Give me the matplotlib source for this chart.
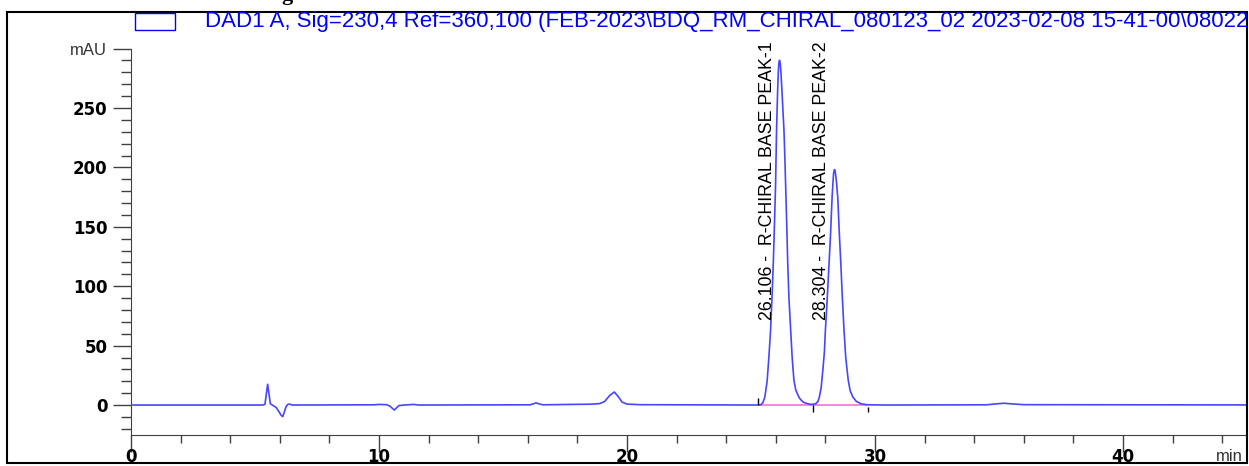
import matplotlib
matplotlib.use('Agg')
import matplotlib.pyplot as plt
from matplotlib.patches import Rectangle
from matplotlib.ticker import MultipleLocator, FixedLocator

# chromatogram trace (time in min, signal in mAU)
time_min = [0.0, 5.30, 5.40, 5.45, 5.51, 5.56, 5.62, 5.70, 5.85, 5.98, 6.05, 6.12, 6.18, 6.25, 6.32, 6.40, 6.50,
            9.80, 10.00, 10.30, 10.45, 10.55, 10.62, 10.70, 10.80, 11.00, 11.40, 11.60,
            16.10, 16.25, 16.33, 16.45, 16.60,
            18.50, 18.90, 19.10, 19.30, 19.49, 19.65, 19.80, 20.00, 20.50,
            25.30, 25.40, 25.48, 25.56, 25.65, 25.72, 25.79, 25.85, 25.90, 25.95, 25.99, 26.03, 26.07, 26.10,
            26.12, 26.14, 26.16, 26.18, 26.21, 26.25, 26.29, 26.33, 26.37, 26.41, 26.45, 26.48, 26.53, 26.60,
            26.66, 26.73, 26.80, 26.88, 26.95, 27.05, 27.15, 27.30, 27.45,
            27.60, 27.70, 27.76, 27.83, 27.90, 27.96, 28.00, 28.08, 28.15, 28.21, 28.27, 28.31, 28.33, 28.36,
            28.38, 28.40, 28.45, 28.50, 28.56, 28.62, 28.68, 28.75, 28.82, 28.92, 29.00, 29.10, 29.25, 29.45,
            29.70, 30.50, 34.50, 34.90, 35.20, 35.50, 36.00, 45.00]
signal_mau = [0.0, 0.0, 0.5, 8.0, 17.5, 10.0, 1.0, 0.0, -2.0, -6.0, -8.5, -9.8, -6.0, -1.5, 0.5, 0.8, 0.0,
              0.2, 0.5, 0.3, -1.0, -3.0, -4.2, -2.5, -0.5, 0.0, 0.5, 0.0,
              0.2, 1.2, 1.8, 1.0, 0.2,
              0.7, 1.2, 3.0, 8.0, 11.0, 7.0, 2.5, 0.8, 0.3,
              0.0, 0.3, 2.0, 7.0, 20.0, 40.0, 63.0, 92.0, 120.0, 155.0, 185.0, 231.0, 262.0, 280.0,
              287.0, 290.0, 290.0, 287.0, 279.0, 264.0, 247.0, 231.0, 205.0, 175.0, 145.0, 120.0, 90.0, 63.0,
              40.0, 21.0, 13.0, 9.0, 6.0, 3.5, 2.0, 1.0, 0.5,
              1.0, 3.0, 7.0, 15.0, 30.0, 45.0, 63.0, 92.0, 120.0, 145.0, 175.0, 189.0, 195.0, 198.0,
              198.0, 196.0, 187.0, 174.0, 145.0, 120.0, 92.0, 63.0, 40.0, 21.0, 12.0, 7.0, 3.0, 1.0,
              0.2, 0.0, 0.2, 1.0, 1.5, 1.0, 0.3, 0.1]

# integration baseline and its start/end marks
base_t = [25.35, 29.65]
base_v = [0.0, 0.0]
mark_t = [25.30, 27.48, 29.70]
mark_lo = [0.0, -6.0, -6.0]
mark_hi = [6.0, 0.0, -1.5]

peak_labels = ['26.106 -  R-CHIRAL BASE PEAK-1', '28.304 -  R-CHIRAL BASE PEAK-2']
label_t = [25.65, 27.83]
label_v = [71.5, 71.5]

y_ticks = [0, 50, 100, 150, 200, 250, 300]
y_ticklabels = ['0', '50', '100', '150', '200', '250', 'mAU']
x_ticks = [0, 10, 20, 30, 40]

title = 'DAD1 A, Sig=230,4 Ref=360,100 (FEB-2023\\BDQ_RM_CHIRAL_080123_02 2023-02-08 15-41-00\\08022'

W, H = 1249, 466
fig = plt.figure(figsize=(W / 100, H / 100), dpi=100)
plt.rcParams['font.family'] = ['Liberation Sans', 'DejaVu Sans']

ax = fig.add_axes([131 / W, (H - 434.5) / H, (1247 - 131) / W, (434.5 - 12) / H])
ax.set_xlim(0, 45.0)
ax.set_ylim(-24.8, 330.8)

ax.plot(time_min, signal_mau, color='#4646ff', lw=1.2, zorder=3)
ax.plot(base_t, base_v, color='#ff70d8', lw=1.2, zorder=2)
ax.vlines(mark_t, mark_lo, mark_hi, color='black', lw=1.0, zorder=4)

for t, v, s in zip(label_t, label_v, peak_labels):
    ax.text(t, v, s, rotation=90, ha='center', va='bottom', fontsize=12.8, color='black')

for side in ['top', 'right']:
    ax.spines[side].set_visible(False)
axis_col = '#404040'
ax.spines['left'].set_bounds(-24.8, 300)
ax.spines['left'].set_color(axis_col)
ax.spines['bottom'].set_color(axis_col)

ax.xaxis.set_major_locator(FixedLocator(x_ticks))
ax.xaxis.set_minor_locator(MultipleLocator(2))
ax.set_xticklabels([str(v) for v in x_ticks], fontsize=12, fontweight='bold', family='DejaVu Sans')
ax.tick_params(axis='x', which='major', length=12, width=1, color=axis_col, pad=-2)
ax.tick_params(axis='x', which='minor', length=6, width=1, color=axis_col)

ax.yaxis.set_major_locator(FixedLocator(y_ticks))
ax.yaxis.set_minor_locator(FixedLocator([v for v in range(-20, 300, 10) if v % 50 != 0]))
ax.set_yticklabels(y_ticklabels, fontsize=12, fontweight='bold', family='DejaVu Sans')
ax.tick_params(axis='y', which='major', length=13, width=1, color=axis_col, pad=4)
ax.tick_params(axis='y', which='minor', length=7, width=1, color=axis_col)
mau = ax.get_yticklabels()[-1]
mau.set_fontweight('normal')
mau.set_family('Liberation Sans')
mau.set_fontsize(12)
mau.set_color('#333333')

fig.text(1216 / W, (H - 461) / H, 'min', fontsize=12, color='#333333', ha='left', va='baseline')

# outer frame and legend
fig.patches.append(Rectangle((7 / W, 3 / H), 1240 / W, 451 / H, transform=fig.transFigure,
                             fill=False, edgecolor='black', lw=1.5))
fig.patches.append(Rectangle((135 / W, (H - 29.5) / H), 40 / W, 16.5 / H, transform=fig.transFigure,
                             fill=False, edgecolor='#0000ff', lw=1.0))
fig.text(205 / W, (H - 27) / H, title, fontsize=16, color='#0000ff', ha='left', va='baseline')
fig.text(287 / W, 1.0, 'g', fontsize=16, fontweight='bold', family='Liberation Serif',
         ha='center', va='baseline')

fig.savefig('out.png', dpi=100)
